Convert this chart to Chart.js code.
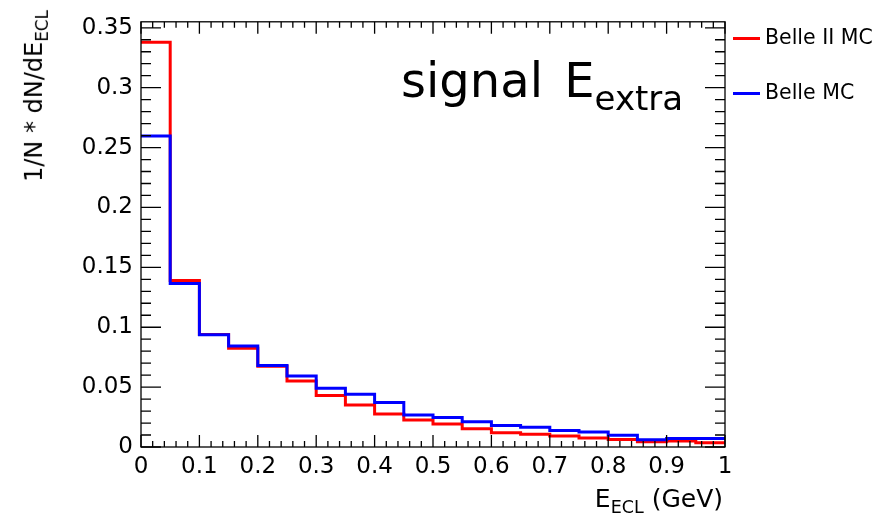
<!DOCTYPE html>
<html>
<head>
<meta charset="utf-8">
<script src="https://cdn.jsdelivr.net/npm/chart.js@4"></script>
<style>
  html, body { margin: 0; padding: 0; background: #fff; }
  #wrap { position: relative; width: 880px; height: 519px; font-family: "DejaVu Sans", sans-serif; color: #000; }
  #c { position: absolute; left: 0; top: 0; }
  .txt { position: absolute; white-space: nowrap; }
  .txt sub { font-size: 0.7em; vertical-align: -0.35em; }
  #ytitle { left: 34px; top: 10px; width: 0; height: 0; }
  #ytitle span { position: absolute; right: 0; top: -15px; height: 30px; line-height: 30px; font-size: 24px;
                 transform-origin: 100% 50%; transform: rotate(-90deg); }
  #xtitle { right: 157px; top: 484px; font-size: 25px; line-height: 30px; }
  #note { left: 401px; top: 52px; font-size: 48px; line-height: 56px; word-spacing: 6px; }
  #note sub { font-size: 34px; vertical-align: -13px; }
  .leg { position: absolute; left: 733px; font-size: 20.5px; line-height: 26px; }
  .leg i { display: inline-block; width: 27px; height: 3px; vertical-align: middle; margin-right: 5px; }
</style>
</head>
<body>
<div id="wrap">
  <canvas id="c" width="880" height="519"></canvas>
  <div class="txt" id="ytitle"><span>1/N * dN/dE<sub>ECL</sub></span></div>
  <div class="txt" id="xtitle">E<sub>ECL</sub> (GeV)</div>
  <div class="txt" id="note">signal E<sub>extra</sub></div>
  <div class="leg" style="top: 24px;"><i style="background:#ff0000"></i>Belle II MC</div>
  <div class="leg" style="top: 79px;"><i style="background:#0000ff"></i>Belle MC</div>
</div>
<script>
// lower edges of the 0.05 GeV bins
const binEdges = [0, 0.05, 0.1, 0.15, 0.2, 0.25, 0.3, 0.35, 0.4, 0.45,
                  0.5, 0.55, 0.6, 0.65, 0.7, 0.75, 0.8, 0.85, 0.9, 0.95];
const belle2 = [0.338, 0.139, 0.094, 0.0824, 0.0675, 0.055, 0.0431, 0.035, 0.0276, 0.0225,
                0.0192, 0.0152, 0.012, 0.0106, 0.0092, 0.0076, 0.0062, 0.0043, 0.0051, 0.0035];
const belle = [0.2596, 0.1366, 0.0938, 0.0843, 0.068, 0.0593, 0.049, 0.0441, 0.0371, 0.0268,
               0.0247, 0.0211, 0.0179, 0.0165, 0.0138, 0.0125, 0.0098, 0.006, 0.0071, 0.0071];
const xMax = 1;
const yMax = 0.355;

function histPoints(vals) {
    const pts = binEdges.map((x, i) => ({ x: x, y: vals[i] }));
    pts.push({ x: xMax, y: vals[vals.length - 1] });
    return pts;
}

// ROOT-style frame with ticks on all four sides
const frameTicks = {
    id: "frameTicks",
    afterDraw(chart) {
        const ctx = chart.ctx, a = chart.chartArea;
        const xs = chart.scales.x, ys = chart.scales.y;
        ctx.save();
        ctx.strokeStyle = "#000";
        ctx.lineWidth = 1.3;
        ctx.strokeRect(a.left, a.top, a.right - a.left, a.bottom - a.top);
        ctx.beginPath();
        for (let i = 0; i <= 50; i++) {
            const px = xs.getPixelForValue(i / 50);
            const len = i % 5 === 0 ? 12 : 6;
            ctx.moveTo(px, a.bottom); ctx.lineTo(px, a.bottom - len);
            ctx.moveTo(px, a.top); ctx.lineTo(px, a.top + len);
        }
        for (let i = 0; i <= 35; i++) {
            const py = ys.getPixelForValue(i / 100);
            const len = i % 5 === 0 ? 20 : 10;
            ctx.moveTo(a.left, py); ctx.lineTo(a.left + len, py);
            ctx.moveTo(a.right, py); ctx.lineTo(a.right - len, py);
        }
        ctx.stroke();
        ctx.restore();
    }
};

new Chart(document.getElementById("c"), {
    type: "line",
    data: {
        datasets: [{
            label: "Belle II MC",
            data: histPoints(belle2),
            borderColor: "#ff0000",
            borderWidth: 3,
            stepped: "before",
            pointRadius: 0,
            fill: false,
            order: 2
        }, {
            label: "Belle MC",
            data: histPoints(belle),
            borderColor: "#0000ff",
            borderWidth: 3,
            stepped: "before",
            pointRadius: 0,
            fill: false,
            order: 1
        }]
    },
    options: {
        responsive: false,
        animation: false,
        layout: { padding: { left: 0, top: 10, right: 155, bottom: 0 } },
        plugins: { legend: { display: false }, tooltip: { enabled: false } },
        scales: {
            x: {
                type: "linear",
                min: 0,
                max: xMax,
                afterFit(s) { s.height = 72; },
                grid: { display: false, drawTicks: false },
                border: { display: false },
                ticks: {
                    stepSize: 0.1,
                    padding: 6,
                    color: "#000",
                    font: { family: "DejaVu Sans", size: 23 },
                    maxRotation: 0,
                    autoSkip: false,
                    callback: v => String(Number(v.toFixed(2)))
                }
            },
            y: {
                min: 0,
                max: yMax,
                afterFit(s) { s.width = 141; },
                grid: { display: false, drawTicks: false },
                border: { display: false },
                ticks: {
                    stepSize: 0.05,
                    includeBounds: false,
                    padding: 8,
                    color: "#000",
                    font: { family: "DejaVu Sans", size: 23 },
                    callback: v => String(Number(v.toFixed(2)))
                }
            }
        }
    },
    plugins: [frameTicks]
});
</script>
</body>
</html>
